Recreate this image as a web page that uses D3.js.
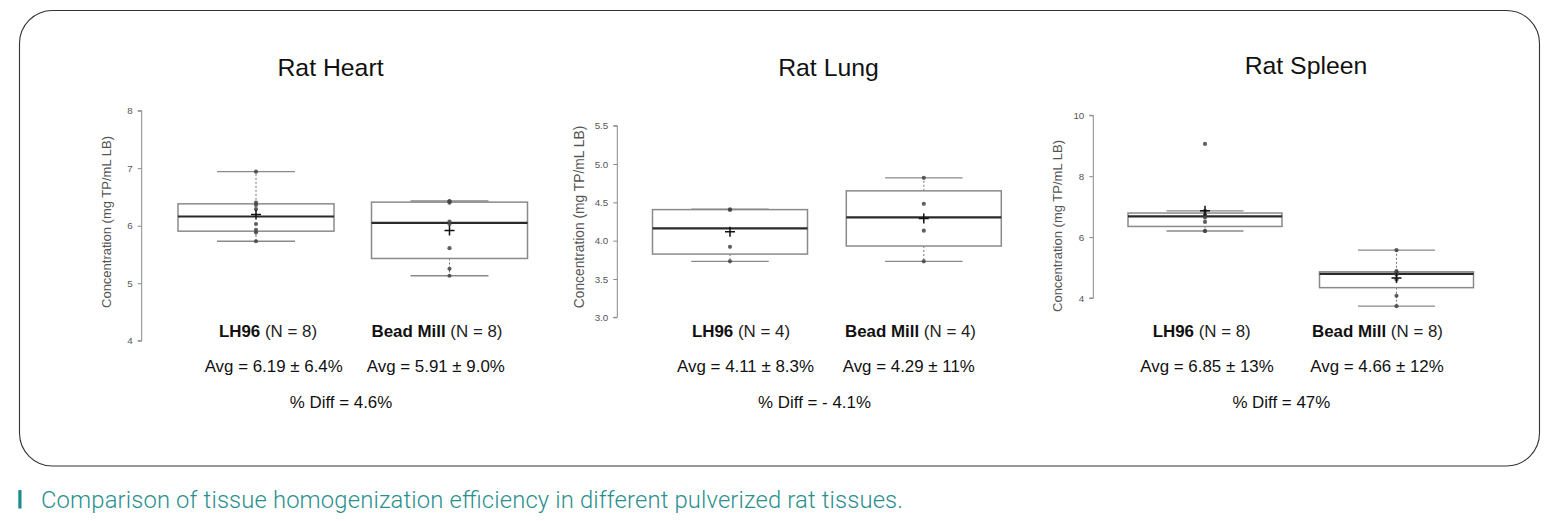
<!DOCTYPE html>
<html>
<head>
<meta charset="utf-8">
<script src="https://cdn.jsdelivr.net/npm/d3@7"></script>
<style>
  html, body { margin: 0; padding: 0; background: #fff; }
  svg { display: block; }
</style>
</head>
<body>
<svg id="chart" width="1558" height="521"></svg>
<script>
// ---------------- DATA ----------------
const tissues = ["Rat Heart", "Rat Lung", "Rat Spleen"];
const methods = ["LH96", "Bead Mill"];

const heartLH96 = [5.73, 5.88, 5.93, 6.03, 6.29, 6.36, 6.40, 6.94];
const heartBead = [5.13, 5.25, 5.61, 6.03, 6.07, 6.40, 6.42, 6.43];
const lungLH96  = [3.73, 3.92, 4.40, 4.41];
const lungBead  = [3.73, 4.13, 4.48, 4.82];
const spleenLH96 = [6.20, 6.20, 6.50, 6.64, 6.72, 6.72, 6.86, 9.06];
const spleenBead = [3.73, 4.07, 4.61, 4.77, 4.81, 4.84, 4.88, 5.57];

const heartTicks  = [4, 5, 6, 7, 8];
const lungTicks   = [3.0, 3.5, 4.0, 4.5, 5.0, 5.5];
const spleenTicks = [4, 6, 8, 10];

const nCounts   = [[8, 8], [4, 4], [8, 8]];
const avgLabels = [["6.19 ± 6.4%", "5.91 ± 9.0%"], ["4.11 ± 8.3%", "4.29 ± 11%"], ["6.85 ± 13%", "4.66 ± 12%"]];
const diffLabels = ["4.6%", "- 4.1%", "47%"];
const yAxisTitle = "Concentration (mg TP/mL LB)";
const caption = "Comparison of tissue homogenization efficiency in different pulverized rat tissues.";

const seriesByTissue = [[heartLH96, heartBead], [lungLH96, lungBead], [spleenLH96, spleenBead]];
const ticksByTissue = [heartTicks, lungTicks, spleenTicks];

// ---------------- LAYOUT ----------------
const layout = [
  { axisX: 141.7, yTop: 110.7, yBot: 340.7, centers: [256, 449.5], boxW: 156, titleX: 330.5, titleY: 75.7,
    nX: [268, 437], avgX: [273.7, 435.8], diffX: 341, labX: 106.7, labY: 222, labSize: 13 },
  { axisX: 617.3, yTop: 125.7, yBot: 317.3, centers: [730, 923.8], boxW: 155, titleX: 828.5, titleY: 76,
    nX: [741, 910.5], avgX: [745.5, 908.8], diffX: 814.5, labX: 579, labY: 217, labSize: 13.8 },
  { axisX: 1093.3, yTop: 115.3, yBot: 298, centers: [1205, 1396.5], boxW: 154, titleX: 1306, titleY: 74,
    nX: [1201.7, 1377.5], avgX: [1207, 1377], diffX: 1281.3, labX: 1057, labY: 226, labSize: 13 }
];

const svg = d3.select("#chart");
svg.append("rect").attr("width", 1558).attr("height", 521).attr("fill", "#fff");

// outer rounded frame
svg.append("rect")
  .attr("x", 19.5).attr("y", 10.5).attr("width", 1520).attr("height", 455.5)
  .attr("rx", 33).attr("ry", 33)
  .attr("fill", "none").attr("stroke", "#333").attr("stroke-width", 1.1);

const txtFont = "'Liberation Sans', Arial, Helvetica, sans-serif";
const bodySize = 16.9;

function fivenumStats(arr) {
  const s = arr.slice().sort(d3.ascending);
  const n = s.length;
  const med = d3.median(s);
  const lower = s.slice(0, Math.ceil(n / 2));
  const upper = s.slice(Math.floor(n / 2));
  const q1 = d3.median(lower), q3 = d3.median(upper);
  const iqr = q3 - q1;
  const lo = d3.min(s.filter(v => v >= q1 - 1.5 * iqr));
  const hi = d3.max(s.filter(v => v <= q3 + 1.5 * iqr));
  return { q1, med, q3, lo, hi, mean: d3.mean(s), pts: s };
}

tissues.forEach((tissue, ti) => {
  const L = layout[ti];
  const ticks = ticksByTissue[ti];
  const y = d3.scaleLinear().domain([d3.min(ticks), d3.max(ticks)]).range([L.yBot, L.yTop]);
  const g = svg.append("g");

  g.append("text").attr("x", L.titleX).attr("y", L.titleY)
    .attr("text-anchor", "middle").attr("font-family", txtFont).attr("font-size", 24.8)
    .attr("fill", "#111").text(tissue);

  const axis = d3.axisLeft(y).tickValues(ticks).tickSize(4).tickPadding(5)
    .tickFormat(ti === 1 ? d3.format(".1f") : d3.format("d"));
  const ag = g.append("g").attr("transform", `translate(${L.axisX},0)`).call(axis);
  ag.select(".domain").attr("stroke", "#8a8a8a").attr("stroke-width", 1);
  ag.selectAll(".tick line").attr("stroke", "#8a8a8a");
  ag.selectAll(".tick text").attr("font-family", txtFont).attr("font-size", 9.8).attr("fill", "#555");
  ag.select(".domain").attr("d", `M-4,${L.yBot}H0V${L.yTop}H-4`);

  g.append("text")
    .attr("transform", `translate(${L.labX},${L.labY}) rotate(-90)`)
    .attr("text-anchor", "middle").attr("dy", "0.35em")
    .attr("font-family", txtFont).attr("font-size", L.labSize).attr("fill", "#555")
    .text(yAxisTitle);

  methods.forEach((m, mi) => {
    const st = fivenumStats(seriesByTissue[ti][mi]);
    const cx = L.centers[mi];
    const hw = L.boxW / 2;
    const cw = L.boxW / 4;
    const bg = g.append("g");
    bg.append("line").attr("x1", cx).attr("x2", cx).attr("y1", y(st.q3)).attr("y2", y(st.hi))
      .attr("stroke", "#777").attr("stroke-width", 1).attr("stroke-dasharray", "2,2");
    bg.append("line").attr("x1", cx).attr("x2", cx).attr("y1", y(st.q1)).attr("y2", y(st.lo))
      .attr("stroke", "#777").attr("stroke-width", 1).attr("stroke-dasharray", "2,2");
    [st.hi, st.lo].forEach(v => {
      bg.append("line").attr("x1", cx - cw).attr("x2", cx + cw).attr("y1", y(v)).attr("y2", y(v))
        .attr("stroke", "#8a8a8a").attr("stroke-width", 1.3);
    });
    bg.append("rect").attr("x", cx - hw).attr("y", y(st.q3))
      .attr("width", L.boxW).attr("height", y(st.q1) - y(st.q3))
      .attr("fill", "none").attr("stroke", "#8a8a8a").attr("stroke-width", 1.5);
    bg.append("line").attr("x1", cx - hw).attr("x2", cx + hw).attr("y1", y(st.med)).attr("y2", y(st.med))
      .attr("stroke", "#2a2a2a").attr("stroke-width", 2.2);
    bg.selectAll("circle.pt").data(st.pts).enter().append("circle")
      .attr("class", "pt").attr("cx", cx).attr("cy", d => y(d)).attr("r", 2.1)
      .attr("fill", "#444").attr("fill-opacity", 0.85);
    const my = y(st.mean);
    bg.append("path").attr("d", `M${cx - 5},${my}H${cx + 5}M${cx},${my - 5}V${my + 5}`)
      .attr("stroke", "#111").attr("stroke-width", 1.5);

    const t = g.append("text").attr("x", L.nX[mi]).attr("y", 337)
      .attr("text-anchor", "middle").attr("font-family", txtFont).attr("font-size", bodySize).attr("fill", "#111");
    t.append("tspan").attr("font-weight", "bold").text(m);
    t.append("tspan").attr("fill", "#222").text(` (N = ${nCounts[ti][mi]})`);
    g.append("text").attr("x", L.avgX[mi]).attr("y", 371.5)
      .attr("text-anchor", "middle").attr("font-family", txtFont).attr("font-size", bodySize).attr("fill", "#111")
      .text(`Avg = ${avgLabels[ti][mi]}`);
  });

  g.append("text").attr("x", L.diffX).attr("y", 408.3)
    .attr("text-anchor", "middle").attr("font-family", txtFont).attr("font-size", bodySize).attr("fill", "#111")
    .text(`% Diff = ${diffLabels[ti]}`);
});

// caption
svg.append("rect").attr("x", 18.3).attr("y", 490).attr("width", 3.2).attr("height", 18.5).attr("fill", "#1f8a8a");
svg.append("text").attr("x", 41).attr("y", 508)
  .attr("font-family", "Roboto, 'Open Sans', sans-serif").attr("font-weight", 300)
  .attr("font-size", 23.8).attr("fill", "#2b8f8f")
  .attr("textLength", 862).attr("lengthAdjust", "spacing")
  .text(caption);
</script>
</body>
</html>
